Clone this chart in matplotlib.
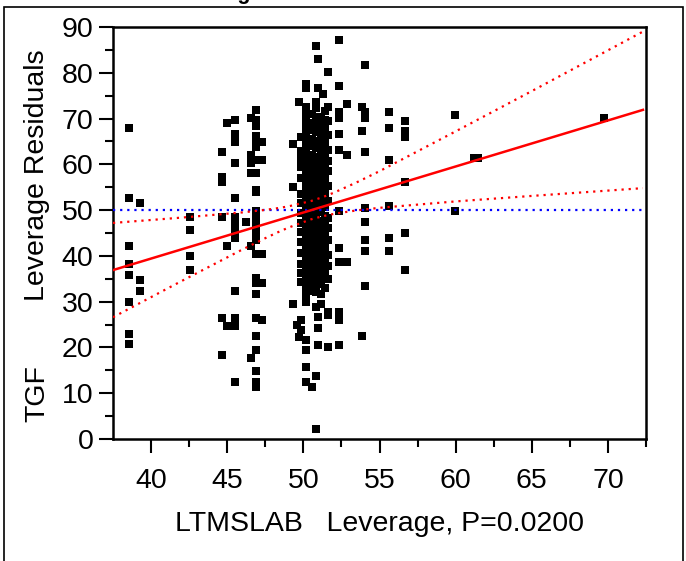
import numpy as np
import matplotlib
matplotlib.use("Agg")
import matplotlib.pyplot as plt
from matplotlib.patches import Rectangle

plt.rcParams['font.family'] = ['Liberation Sans', 'DejaVu Sans']

# leverage points, grouped by LTMSLAB leverage value (x) -> TGF leverage residuals (y)
groups = [
    (38.56, [67.9, 52.7, 42.2, 38.2, 35.8, 30.0, 23.0, 20.7]),
    (39.26, [51.5, 34.7, 32.3]),
    (42.55, [48.6, 45.7, 39.9, 37.0]),
    (44.65, [62.6, 57.2, 56.1, 48.6, 26.5, 18.3]),
    (45.00, [69.0, 42.2, 24.7]),
    (45.53, [69.6, 66.7, 64.9, 60.3, 52.7, 48.6, 47.5, 45.7, 44.0, 32.3, 26.5, 24.7, 12.5]),
    (46.22, [47.5]),
    (46.57, [70.2, 62.0, 60.3, 58.0, 42.2, 17.8]),
    (46.92, [71.9, 69.6, 68.4, 66.1, 64.9, 63.8, 60.9, 58.0, 54.5, 53.9, 49.8, 48.6, 47.5,
             45.7, 44.0, 43.4, 40.5, 35.2, 34.1, 31.7, 26.5, 22.4, 19.5, 14.9, 12.5, 11.4]),
    (47.27, [64.9, 60.9, 40.5, 34.1, 25.9]),
    (49.30, [64.4, 55.0, 29.5]),
    (49.60, [24.9]),
    (49.70, [73.7, 22.3]),
    (49.85, [66.0, 63.0, 61.2, 59.5, 57.0, 53.5, 51.6, 49.4, 47.2, 45.3, 43.1, 40.6, 38.2,
             36.3, 34.4, 26.0, 23.8]),
    (50.20, [77.5, 76.6, 72.5, 70.9, 69.3, 67.7, 66.1, 64.5, 62.9, 61.3, 59.7, 58.1, 56.5,
             54.9, 53.3, 51.7, 50.1, 48.5, 46.9, 45.3, 43.7, 42.1, 40.5, 38.9, 37.3, 35.7,
             34.1, 32.5, 31.0, 30.0, 21.6, 19.4, 15.7, 12.5]),
    (50.55, [71.0, 69.1, 67.4, 65.6, 63.9, 62.1, 60.4, 58.6, 56.9, 55.1, 53.4, 51.6, 49.9,
             48.1, 46.4, 44.6, 42.9, 41.1, 39.4, 37.6, 35.9, 34.1, 32.4, 11.4]),
    (50.80, [85.9, 73.7, 72.2, 70.4, 68.7, 67.0, 65.2, 63.5, 61.7, 60.0, 58.3, 56.5, 54.8,
             53.0, 51.3, 49.6, 47.8, 46.1, 44.3, 42.6, 40.9, 39.1, 37.4, 35.6, 33.9, 32.1,
             28.9, 13.8, 2.1]),
    (50.95, [83.0, 76.6, 24.2, 20.5, 26.7]),
    (51.15, [70.3, 68.5, 66.8, 65.1, 63.3, 61.6, 59.9, 58.1, 56.4, 54.7, 52.9, 51.2, 49.5,
             47.7, 46.0, 44.3, 42.5, 40.8, 39.1, 37.3, 35.6, 33.9, 31.6, 29.5]),
    (51.30, [75.4]),
    (51.45, [71.6, 69.6, 67.9, 66.2, 64.4, 62.7, 61.0, 59.2, 57.5, 55.8, 54.0, 52.3, 50.6,
             48.8, 47.1, 45.4, 43.6, 41.9, 40.2, 38.4, 36.7, 35.0, 33.0]),
    (51.65, [80.1, 72.5, 69.4, 66.5, 63.2, 60.8, 58.6, 55.2, 52.0, 48.2, 46.0, 43.5, 40.3,
             37.8, 35.0, 27.8, 27.0, 20.2]),
    (52.32, [87.1, 77.2, 71.4, 70.1, 66.7, 63.2, 49.8, 41.7, 38.7, 27.8, 26.0, 20.5]),
    (52.84, [73.1, 62.0, 38.7]),
    (53.88, [72.5, 67.3, 22.4]),
    (54.05, [81.8, 71.4, 70.2, 62.6, 50.4, 47.5, 43.4, 41.1, 33.5]),
    (55.62, [71.4, 67.9, 60.9, 51.0, 44.0, 41.1]),
    (56.66, [69.5, 67.2, 66.0, 56.2, 45.1, 37.0]),
    (59.97, [70.8, 49.8]),
    (61.20, [61.4]),
    (61.45, [61.4]),
    (69.72, [70.2]),
]

# fitted line and confidence curves
fit_x = [37.5, 72.3]
fit_y = [36.9, 71.9]
conf_x = [37.5, 42.0, 46.0, 47.5, 48.25, 49.0, 50.5, 51.25, 52.0, 53.5, 55.0, 60.0, 65.0, 72.3]
conf_hi = [47.2, 48.36, 49.5, 50.05, 50.39, 50.8, 51.98, 52.81, 53.8, 56.06, 58.5, 67.2, 76.0, 89.0]
conf_lo = [26.6, 34.5, 41.4, 43.87, 45.05, 46.15, 47.98, 48.65, 49.18, 49.94, 50.5, 51.9, 53.1, 54.8]
mean_y = 50.0

xs = np.concatenate([[gx] * len(gy) for gx, gy in groups])
ys = np.concatenate([gy for gx, gy in groups])

fig = plt.figure(figsize=(6.86, 5.61), dpi=100)
ax = fig.add_axes([113/686, 1 - 439/561, 533/686, 412/561])

ax.plot(xs, ys, 's', color='black', ms=5.6, mew=0, zorder=2)
ax.plot(fit_x, fit_y, color='#ff0000', lw=1.8, zorder=4)
ax.plot(conf_x, conf_hi, color='#ff0000', lw=1.6, ls=(0, (1, 2.2)), zorder=4)
ax.plot(conf_x, conf_lo, color='#ff0000', lw=1.6, ls=(0, (1, 2.2)), zorder=4)
ax.axhline(mean_y, color='#0000ff', lw=1.6, ls=(0, (1, 2.2)), zorder=3)

ax.set_xlim(37.5, 72.3)
ax.set_ylim(0, 90)
ax.set_xticks([40, 45, 50, 55, 60, 65, 70])
ax.set_xticks([42.5, 47.5, 52.5, 57.5, 62.5, 67.5, 72.5], minor=True)
ax.set_yticks(np.arange(0, 91, 10))
ax.set_yticks(np.arange(5, 90, 10), minor=True)
ax.tick_params(which='major', length=10, width=1.5, labelsize=20.5, direction='out', pad=4)
ax.tick_params(which='minor', length=5.5, width=1.5, direction='out')
ax.tick_params(axis='x', which='major', pad=11)
for s in ax.spines.values():
    s.set_linewidth(1.8)

ax.set_xlabel("LTMSLAB   Leverage, P=0.0200", fontsize=20.5, labelpad=12)
fig.text(37/686, 1 - 175/561, "Leverage Residuals", rotation=90, fontsize=20.5,
         ha='center', va='center')
fig.text(37/686, 1 - 393/561, "TGF", rotation=90, fontsize=20.5, ha='center', va='center')

# outer frame and clipped section title
fig.patches.append(Rectangle((4/686, -0.05), 679/686, 1.05 - 7/561, transform=fig.transFigure,
                             fill=False, lw=1.2, ec='black'))
fig.text(61/686, 1 + 1/561, "LTMSLAB Leverage Plot", fontsize=15.5, fontweight='bold',
         ha='left', va='baseline')

fig.savefig('out.png', dpi=100)
